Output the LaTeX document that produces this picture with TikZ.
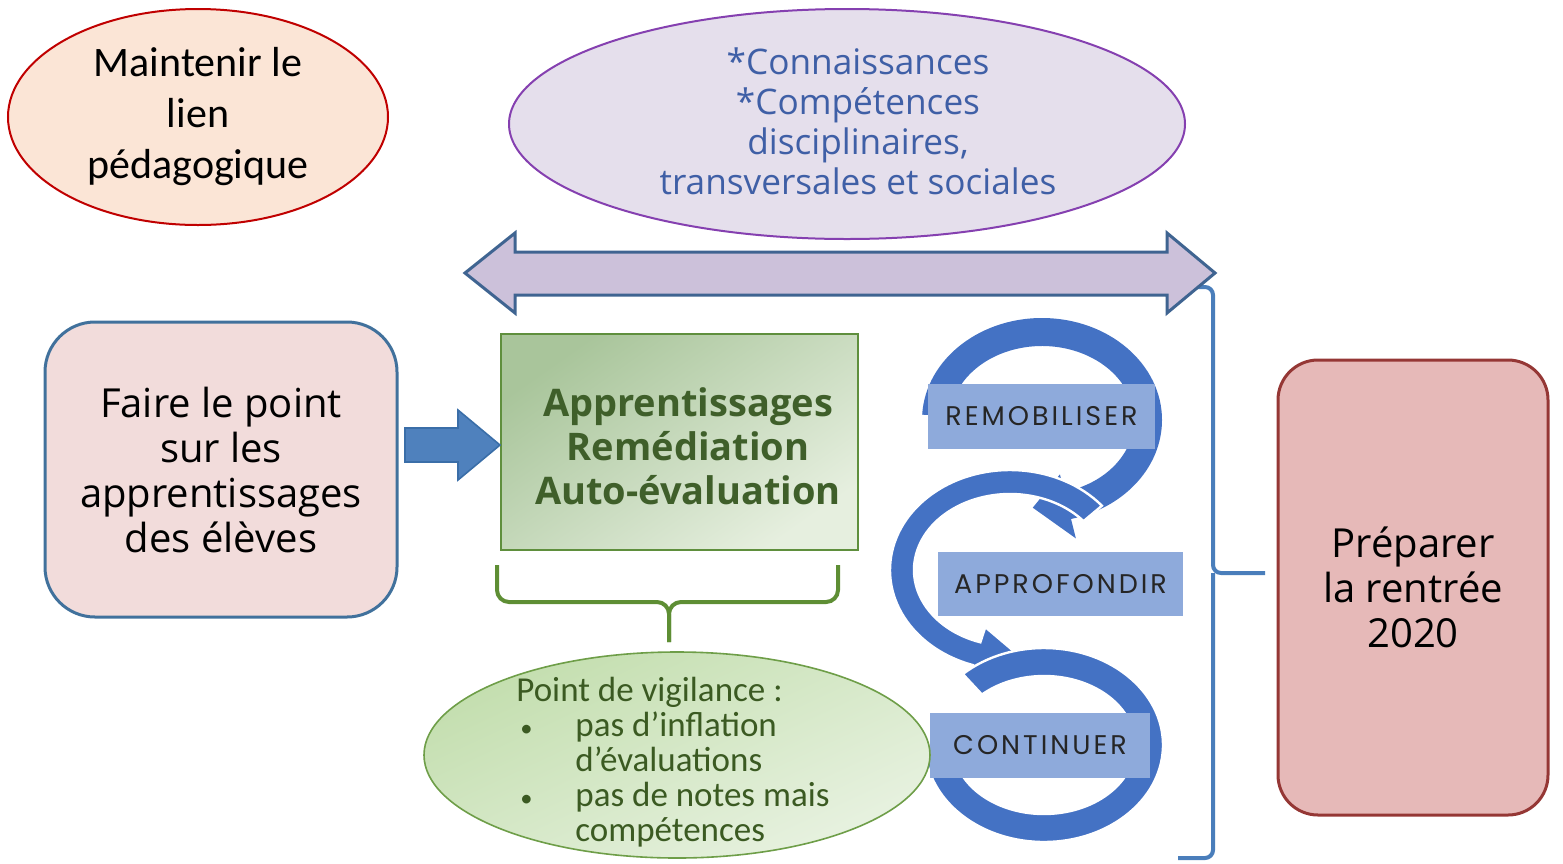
\documentclass[tikz,border=0pt]{standalone}
\usepackage{fontspec}
\setmainfont{Carlito}
\newfontfamily\fcal{Carlito}
\newfontfamily\fopen{Open Sans}
\newfontfamily\fpop[LetterSpace=11]{Poppins}
\usetikzlibrary{calc,shapes.geometric}
\definecolor{peach}{HTML}{FBE5D6}
\definecolor{mred}{HTML}{C00000}
\definecolor{lav}{HTML}{E5DFEC}
\definecolor{lavdraw}{HTML}{8540B0}
\definecolor{toptext}{HTML}{3F5FA6}
\definecolor{arrfill}{HTML}{CCC1DA}
\definecolor{arrdraw}{HTML}{3F6491}
\definecolor{pinkfill}{HTML}{F2DCDB}
\definecolor{bluedraw}{HTML}{41719C}
\definecolor{blockfill}{HTML}{4F81BD}
\definecolor{blockdraw}{HTML}{3A6EA8}
\definecolor{gbdark}{HTML}{A9C59B}
\definecolor{gblight}{HTML}{E6EFDF}
\definecolor{gbdraw}{HTML}{5F8F3D}
\definecolor{gbtext}{HTML}{3F5F2A}
\definecolor{gbracket}{HTML}{5E8E34}
\definecolor{gedark}{HTML}{C3DEAE}
\definecolor{gelight}{HTML}{E8F2E1}
\definecolor{gedraw}{HTML}{6E9E48}
\definecolor{getext}{HTML}{3B5A22}
\definecolor{ringblue}{HTML}{4472C4}
\definecolor{lblfill}{HTML}{8EAADB}
\definecolor{lbltext}{HTML}{262626}
\definecolor{rbracket}{HTML}{4A7EBB}
\definecolor{redfill}{HTML}{E6B9B8}
\definecolor{reddraw}{HTML}{953735}
\tikzset{
  lblbox/.style={rectangle, fill=lblfill, inner sep=0pt, text=lbltext,
    font=\fpop\fontsize{13.5}{15}\selectfont},
  bigtext/.style={align=center, font=\fopen\fontsize{20}{22.5}\selectfont, text=black},
}
\begin{document}
\begin{tikzpicture}[x=0.5pt,y=-0.5pt]
\useasboundingbox (0,0) rectangle (1563,863);

% Maintenir le lien
\node[ellipse, draw=mred, fill=peach, line width=1pt, minimum width=190pt, minimum height=108pt, inner sep=0pt] (lien) at (198,117) {};
\node[align=center, font=\fcal\fontsize{21}{25.5}\selectfont] (lientxt) at (lien.center) {Maintenir le\\lien\\pédagogique};

% top ellipse
\node[ellipse, draw=lavdraw, fill=lav, line width=1pt, minimum width=338pt, minimum height=115pt, inner sep=0pt] (comp) at (847,124) {};
\node[align=center, text=toptext, font=\fopen\fontsize{17.6}{20}\selectfont] (comptxt) at (858,121) {*Connaissances\\*Compétences\\disciplinaires,\\transversales et sociales};

% right bracket
\draw[rbracket, line width=2pt, rounded corners=4pt]
  (1196,287) -- (1213,287) -- (1213,573) -- (1265,573);
\draw[rbracket, line width=2pt, rounded corners=4pt]
  (1178,858) -- (1213,858) -- (1213,573);
\coordinate (rbtip) at (1265,573);

% double arrow
\path[fill=arrfill, draw=arrdraw, line width=1.5pt, line join=miter]
  (465,273) -- (515,233) -- (515,252) -- (1167,252) -- (1167,233) -- (1215,273)
  -- (1167,313) -- (1167,295) -- (515,295) -- (515,313) -- cycle;

% left box
\node[rectangle, rounded corners=25pt, draw=bluedraw, fill=pinkfill, line width=1.5pt,
  minimum width=176pt, minimum height=147.5pt, inner sep=0pt] (point) at (221,469.5) {};
\node[bigtext] (pointtxt) at (point.center) {Faire le point\\sur les\\apprentissages\\des élèves};

% right box
\node[rectangle, rounded corners=20pt, draw=reddraw, fill=redfill, line width=1.5pt,
  minimum width=135pt, minimum height=227.5pt, inner sep=0pt] (prep) at (1413,587.5) {};
\node[bigtext] (preptxt) at (prep.center) {Préparer\\la rentrée\\2020};

% green box
\node[rectangle, draw=gbdraw, line width=1pt, top color=gbdark, bottom color=gblight, shading angle=35,
  minimum width=178.5pt, minimum height=108pt, inner sep=0pt] (appr) at (679.5,442) {};
\node[align=center, text=gbtext, font=\fopen\bfseries\fontsize{19}{22}\selectfont] (apprtxt) at (688,446) {Apprentissages\\Remédiation\\Auto-évaluation};

% block arrow
\path[fill=blockfill, draw=blockdraw, line width=0.8pt]
  (405,428) -- (458,428) -- (458,410) -- (500,445) -- (458,480) -- (458,462) -- (405,462) -- cycle;

% green bracket
\draw[gbracket, line width=2pt, rounded corners=6pt]
  (497,565) -- (497,602) -- (669,602) -- (669,642);
\draw[gbracket, line width=2pt, rounded corners=6pt]
  (838,565) -- (838,602) -- (669,602) -- (669,642);

% ring 1
\coordinate (c1) at (1042,420);
\fill[ringblue] ($(c1)+(183:120 and 102)$) arc[start angle=183,end angle=436,x radius=120,y radius=102]
  -- ($(c1)+(436:140 and 122)$) -- ($(c1)+(455:106 and 88)$) -- ($(c1)+(436:74 and 56)$)
  -- ($(c1)+(436:92 and 74)$) arc[start angle=436,end angle=183,x radius=92,y radius=74] -- cycle;
\node[lblbox, minimum width=113.5pt, minimum height=32.5pt] (remob) at (1041.5,416.5) {REMOBILISER};

% ring 2
\coordinate (c2) at (1010,570);
\filldraw[fill=ringblue, draw=white, line width=1.2pt] ($(c2)+(320:120 and 100)$) arc[start angle=320,end angle=108,x radius=120,y radius=100]
  -- ($(c2)+(108:136 and 116)$) -- ($(c2)+(84:108 and 88)$) -- ($(c2)+(108:80 and 60)$)
  -- ($(c2)+(108:96 and 76)$) arc[start angle=108,end angle=320,x radius=96,y radius=76] -- cycle;
\node[lblbox, minimum width=122.5pt, minimum height=32pt] (appro) at (1060.5,584) {APPROFONDIR};

% ring 3
\coordinate (c3) at (1044,745);
\filldraw[fill=ringblue, draw=white, line width=1.2pt] ($(c3)+(227:119 and 97)$) arc[start angle=227,end angle=535,x radius=119,y radius=97]
  -- ($(c3)+(535:91 and 69)$) arc[start angle=535,end angle=227,x radius=91,y radius=69] -- cycle;
\node[lblbox, minimum width=110pt, minimum height=32.5pt] (cont) at (1040,745.5) {CONTINUER};

% green ellipse
\node[ellipse, draw=gedraw, line width=0.8pt, top color=gedark, bottom color=gelight, shading angle=25,
  minimum width=253pt, minimum height=103pt, inner sep=0pt] (vigil) at (677,755) {};
\node[anchor=west, align=left, text=getext, inner sep=0pt, font=\fcal\fontsize{17.5}{17.5}\selectfont] (vigiltxt) at (516,762)
  {Point de vigilance :\\
   \makebox[29.5pt][l]{\hspace*{2pt}\scalebox{0.7}{•}}pas d’inflation\\
   \hspace*{29.5pt}d’évaluations\\
   \makebox[29.5pt][l]{\hspace*{2pt}\scalebox{0.7}{•}}pas de notes mais\\
   \hspace*{29.5pt}compétences};
\end{tikzpicture}
\end{document}
